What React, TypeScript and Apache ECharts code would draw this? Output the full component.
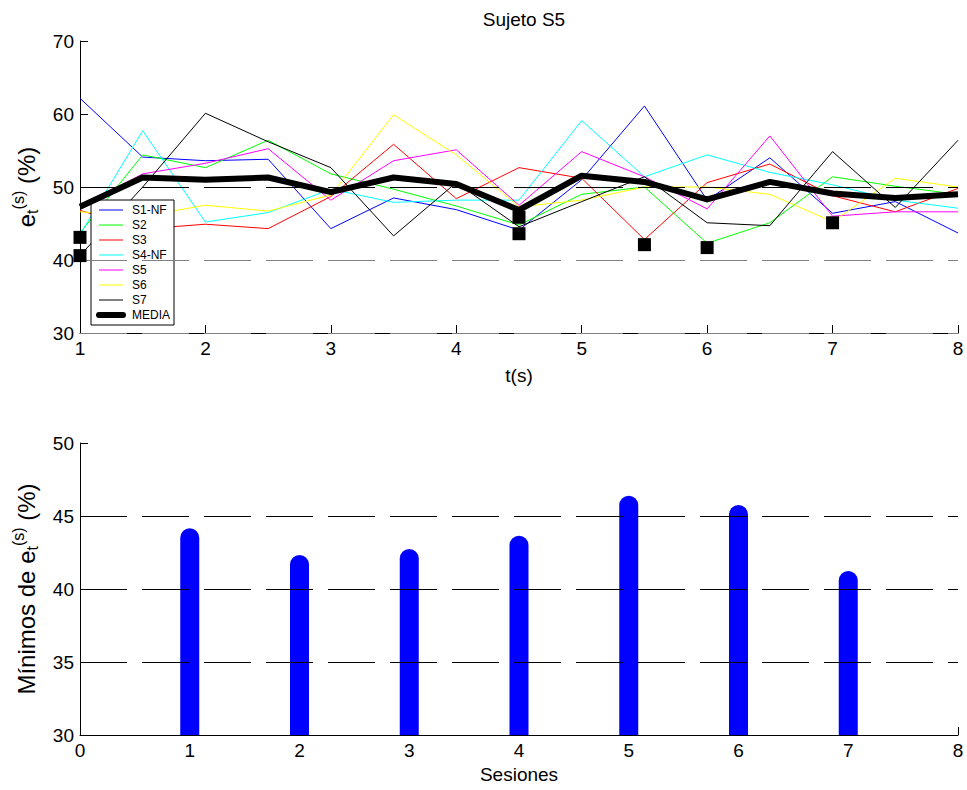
import React, { useEffect, useRef } from "react";
import * as echarts from "echarts";

const tValues = [1, 1.5, 2, 2.5, 3, 3.5, 4, 4.5, 5, 5.5, 6, 6.5, 7, 7.5, 8];
const s1 = [62.15, 54.1, 53.6, 53.8, 44.3, 48.5, 46.9, 44.1, 51.0, 61.1, 48.2, 54.0, 46.4, 48.0, 43.7];
const s2 = [43.7, 54.4, 52.65, 56.4, 51.8, 49.7, 47.4, 44.8, 49.0, 50.0, 42.3, 45.1, 51.4, 50.1, 49.0];
const s3 = [46.8, 44.25, 44.9, 44.3, 48.7, 55.85, 48.4, 52.65, 51.2, 42.8, 50.6, 53.15, 48.8, 46.6, 49.8];
const s4 = [43.5, 57.7, 45.2, 46.5, 49.7, 47.9, 48.2, 48.2, 59.1, 51.4, 54.4, 52.0, 50.3, 48.2, 47.1];
const s5 = [47.3, 51.8, 53.25, 55.25, 48.2, 53.6, 55.1, 47.5, 54.85, 51.4, 47.0, 57.0, 46.0, 46.6, 46.6];
const s6 = [46.6, 46.0, 47.5, 46.7, 48.9, 59.9, 54.4, 47.3, 48.2, 50.0, 50.0, 49.0, 45.25, 51.2, 50.0];
const s7 = [40.6, 50.0, 60.1, 56.2, 52.65, 43.3, 50.6, 44.55, 48.0, 51.4, 45.1, 44.7, 54.85, 47.2, 56.4];
const media = [47.3, 51.3, 51.0, 51.3, 49.3, 51.3, 50.4, 46.85, 51.55, 50.7, 48.3, 50.7, 49.1, 48.5, 49.0];

const seriesNames = ["S1-NF", "S2", "S3", "S4-NF", "S5", "S6", "S7"];
const seriesValues = [s1, s2, s3, s4, s5, s6, s7];
const seriesColors = ["#0000ff", "#00ff00", "#ff0000", "#00ffff", "#ff00ff", "#ffff00", "#000000"];

const minMarkerT = [1, 1, 4.5, 4.5, 5.5, 6, 7];
const minMarkerV = [43.1, 40.6, 45.85, 43.6, 42.1, 41.7, 45.1];

const sesiones = [1, 2, 3, 4, 5, 6, 7];
const minimos = [44.16, 42.33, 42.74, 43.65, 46.39, 45.75, 41.23];

const FONT = "Liberation Sans, Arial, sans-serif";

export default function App() {
  const ref = useRef<HTMLDivElement>(null);
  useEffect(() => {
    if (!ref.current) return;
    const chart = echarts.init(ref.current, undefined, { renderer: "svg" });

    const axisCommon = {
      axisLine: { show: true, onZero: false, lineStyle: { color: "#000", width: 1 } },
      axisTick: { show: true, inside: true, length: 8, lineStyle: { color: "#000" } },
      splitLine: { show: false },
    };
    const tickLabel = { fontSize: 19, color: "#000", margin: 6, fontFamily: FONT };

    const lineSeries: any[] = seriesNames.map((name, i) => ({
      name,
      type: "line",
      xAxisIndex: 0,
      yAxisIndex: 0,
      data: tValues.map((t, j) => [t, seriesValues[i][j]]),
      symbol: "none",
      lineStyle: { color: seriesColors[i], width: 1 },
      itemStyle: { color: seriesColors[i] },
      z: 3,
    }));

    const yNameRich = {
      a: { fontSize: 24, fontFamily: FONT, color: "#000" },
      sub: { fontSize: 16, fontFamily: FONT, color: "#000", padding: [12, 0, 0, 0] },
      sup: { fontSize: 16, fontFamily: FONT, color: "#000", padding: [0, 0, 16, 0] },
    };

    const hiddenSymbol = { opacity: 0, color: "transparent", borderWidth: 0 };

    const option: any = {
      animation: false,
      textStyle: { fontFamily: FONT },
      title: {
        text: "Sujeto S5",
        left: 519,
        top: 5,
        textAlign: "center",
        textStyle: { fontSize: 19, fontWeight: "normal", color: "#000", fontFamily: FONT },
      },
      legend: {
        left: 91,
        top: 200,
        orient: "vertical",
        backgroundColor: "#fff",
        borderColor: "#000",
        borderWidth: 1,
        borderRadius: 0,
        padding: [4, 4, 4, 5],
        itemGap: 3,
        itemWidth: 24,
        itemHeight: 11,
        textStyle: { fontSize: 12, color: "#000", fontFamily: FONT, padding: [0, 0, 0, 4] },
        data: [
          ...seriesNames.map((n, i) => ({
            name: n,
            lineStyle: { color: seriesColors[i], width: 1 },
            itemStyle: hiddenSymbol,
          })),
          {
            name: "MEDIA",
            lineStyle: { color: "#000", width: 6, cap: "round" },
            itemStyle: hiddenSymbol,
          },
        ],
        selectedMode: false,
      },
      grid: [
        { left: 80, right: 9, top: 41, height: 292, containLabel: false },
        { left: 80, right: 9, top: 443, height: 292, containLabel: false },
      ],
      xAxis: [
        {
          type: "value",
          gridIndex: 0,
          min: 1,
          max: 8,
          interval: 1,
          ...axisCommon,
          axisLabel: tickLabel,
          name: "t(s)",
          nameLocation: "middle",
          nameGap: 33,
          nameTextStyle: { fontSize: 19, color: "#000", fontFamily: FONT },
        },
        {
          type: "value",
          gridIndex: 1,
          min: 0,
          max: 8,
          interval: 1,
          ...axisCommon,
          axisLabel: tickLabel,
          name: "Sesiones",
          nameLocation: "middle",
          nameGap: 30,
          nameTextStyle: { fontSize: 19, color: "#000", fontFamily: FONT },
        },
      ],
      yAxis: [
        {
          type: "value",
          gridIndex: 0,
          min: 30,
          max: 70,
          interval: 10,
          ...axisCommon,
          axisLabel: tickLabel,
          name: "{a|e}{sub|t}{sup|(s)}{a| (%)}",
          nameLocation: "middle",
          nameRotate: 90,
          nameGap: 38,
          nameTextStyle: { rich: yNameRich },
        },
        {
          type: "value",
          gridIndex: 1,
          min: 30,
          max: 50,
          interval: 5,
          ...axisCommon,
          axisLabel: tickLabel,
          name: "{a|Mínimos de e}{sub|t}{sup|(s)}{a| (%)}",
          nameLocation: "middle",
          nameRotate: 90,
          nameGap: 38,
          nameTextStyle: { rich: yNameRich },
        },
      ],
      series: [
        {
          name: "grid-top",
          type: "line",
          xAxisIndex: 0,
          yAxisIndex: 0,
          data: [],
          silent: true,
          markLine: {
            silent: true,
            symbol: "none",
            label: { show: false },
            data: [
              { yAxis: 30, lineStyle: { color: "#808080", type: [47, 15], width: 1 } },
              { yAxis: 40, lineStyle: { color: "#808080", type: [47, 15], width: 1.2 } },
              { yAxis: 50, lineStyle: { color: "#000", type: [47, 15], width: 1 } },
            ],
          },
          z: 1,
        },
        ...lineSeries,
        {
          name: "MEDIA",
          type: "line",
          xAxisIndex: 0,
          yAxisIndex: 0,
          data: tValues.map((t, j) => [t, media[j]]),
          symbol: "none",
          lineStyle: { color: "#000", width: 6, join: "round" },
          itemStyle: { color: "#000" },
          z: 4,
        },
        {
          name: "minimos-marcas",
          type: "scatter",
          xAxisIndex: 0,
          yAxisIndex: 0,
          symbol: "rect",
          symbolSize: 13,
          itemStyle: { color: "#000", opacity: 1 },
          data: minMarkerT.map((t, i) => [t, minMarkerV[i]]),
          z: 5,
        },
        {
          name: "grid-bottom",
          type: "line",
          xAxisIndex: 1,
          yAxisIndex: 1,
          data: [],
          silent: true,
          markLine: {
            silent: true,
            symbol: "none",
            label: { show: false },
            data: [
              { yAxis: 35, lineStyle: { color: "#000", type: [47, 15], width: 1 } },
              { yAxis: 40, lineStyle: { color: "#000", type: [47, 15], width: 1 } },
              { yAxis: 45, lineStyle: { color: "#000", type: [47, 15], width: 1 } },
            ],
          },
          z: 1,
        },
        {
          name: "Mínimos",
          type: "bar",
          xAxisIndex: 1,
          yAxisIndex: 1,
          barWidth: 19,
          data: sesiones.map((s, i) => [s, minimos[i]]),
          itemStyle: { color: "#0000ff", borderRadius: [10, 10, 0, 0] },
          clip: true,
          z: 3,
        },
      ],
    };
    chart.setOption(option);
    return () => chart.dispose();
  }, []);
  return (
    <div
      ref={ref}
      style={{ position: "absolute", left: 0, top: 0, width: 967, height: 790, background: "#fff" }}
    />
  );
}
